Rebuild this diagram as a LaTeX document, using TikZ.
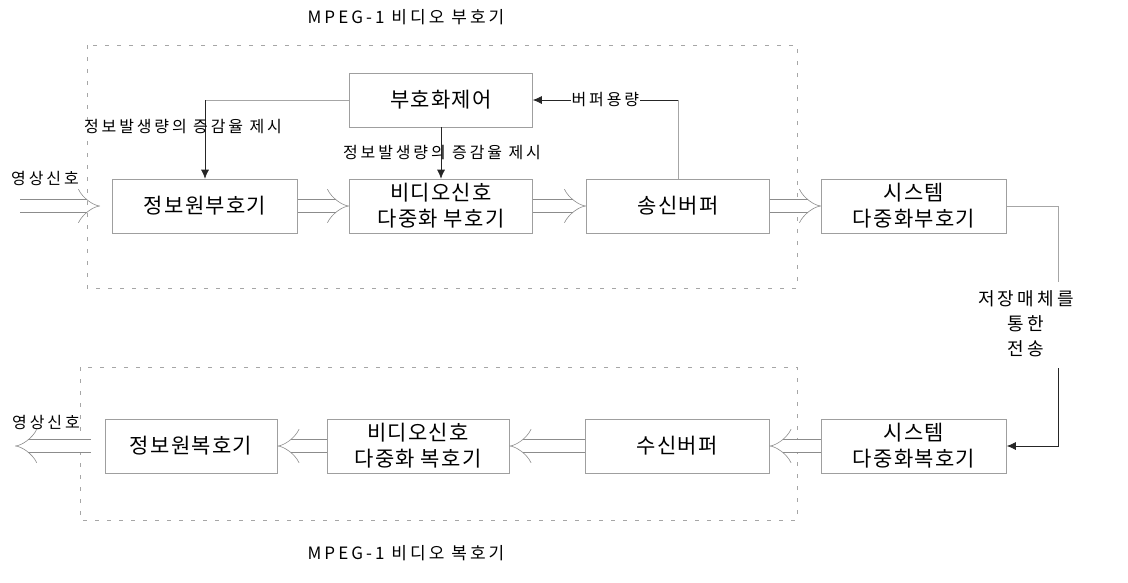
\documentclass[tikz,border=0pt]{standalone}
\usepackage{fontspec}
\setmainfont{Noto Sans CJK KR}
\usetikzlibrary{arrows.meta}
\begin{document}
\begin{tikzpicture}[x=1pt,y=-1pt,
 box/.style={draw=gray!75, line width=0.6pt, minimum width=183pt, minimum height=54pt, inner sep=0pt, align=center, font=\fontsize{21}{26}\selectfont\addfontfeatures{LetterSpace=6}},
 frame/.style={draw=gray!70, dash pattern=on 4pt off 8pt, line width=0.6pt},
 dbl/.style={draw=gray!90, double, double distance=12pt, line width=0.6pt, -{Implies}},
 faint/.style={draw=gray!70, line width=0.6pt},
 sig/.style={draw=black!85, line width=0.7pt, -{Latex[length=9pt,width=8pt]}},
 lbl/.style={font=\fontsize{16}{25}\selectfont\addfontfeatures{LetterSpace=18}, inner sep=1pt},
 ttl/.style={font=\fontsize{17}{20}\selectfont\addfontfeatures{LetterSpace=18}, inner sep=1pt},
]
\useasboundingbox (0,0) rectangle (1128,582);
% frames
\draw[frame] (87,45) rectangle (797,288);
\draw[frame] (80,367) rectangle (797,520);
\node[ttl] (t1) at (406,17) {MPEG-1 비디오 부호기};
\node[ttl] (t2) at (406,553) {MPEG-1 비디오 복호기};
% encoder
\node[box] (ctl) at (441,100) {부호화제어};
\node[box, minimum width=185pt] (src) at (205,206) {정보원부호기};
\node[box] (vmux) at (441,206) {비디오신호\\다중화 부호기};
\node[box] (tbuf) at (678,206) {송신버퍼};
\node[box, minimum width=185pt] (smux) at (914,206) {시스템\\다중화부호기};
% decoder
\node[box, minimum width=172pt] (srcd) at (191,446) {정보원복호기};
\node[box, minimum width=182pt] (vdmx) at (418,446) {비디오신호\\다중화 복호기};
\node[box, minimum width=184pt] (rbuf) at (677,446) {수신버퍼};
\node[box, minimum width=185pt] (sdmx) at (914,446) {시스템\\다중화복호기};
% input / output
\node[lbl] (inl) at (45,178) {영상신호};
\coordinate (in) at (20,206);
\draw[dbl, shorten >=12pt] (in) -- (src.west);
\node[lbl] (outl) at (46,422) {영상신호};
\coordinate (out) at (15,446);
\draw[dbl, shorten <=14pt] (srcd.west) -- (out);
% encoder chain
\draw[dbl] (src.east) -- (vmux.west);
\draw[dbl] (vmux.east) -- (tbuf.west);
\draw[dbl] (tbuf.east) -- (smux.west);
% decoder chain
\draw[dbl] (sdmx.west) -- (rbuf.east);
\draw[dbl] (rbuf.west) -- (vdmx.east);
\draw[dbl] (vdmx.west) -- (srcd.east);
% control
\draw[faint] (ctl.west) -- (src.north |- ctl.west);
\draw[sig] (src.north |- ctl.west) -- (src.north);
\node[lbl] (l1) at (183,127) {정보발생량의 증감율 제시};
\draw[sig] (ctl.south) -- (vmux.north);
\node[lbl] (l2) at (442,153) {정보발생량의 증감율 제시};
\draw[faint] (tbuf.north) -- (tbuf.north |- ctl.east);
\draw[sig] (tbuf.north |- ctl.east) -- (ctl.east) node[lbl, pos=0.5, fill=white] (l3) {버퍼용량};
% transmission
\node[lbl, align=center, font=\fontsize{18}{25}\selectfont\addfontfeatures{LetterSpace=18}] (med) at (1026,324) {저장매체를\\통한\\전송};
\coordinate (m1) at (1058,282);
\coordinate (m2) at (1058,368);
\draw[faint] (smux.east) -| (m1);
\draw[sig] (m2) |- (sdmx.east);
\end{tikzpicture}
\end{document}
